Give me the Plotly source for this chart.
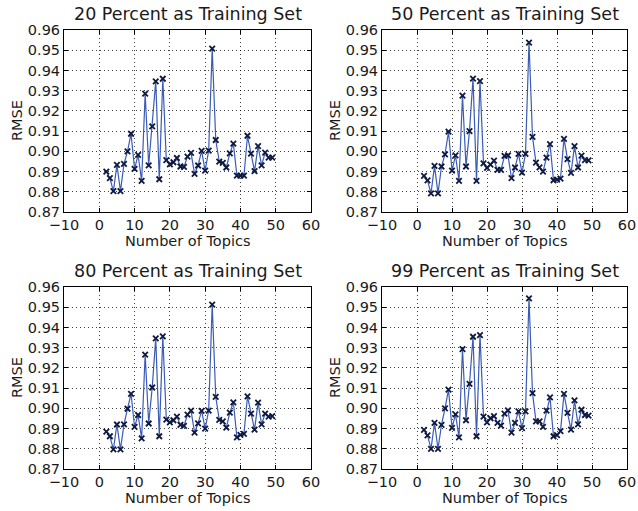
import plotly.graph_objects as go

topics = list(range(2, 50))

rmse_20 = [0.8900, 0.8867, 0.8803, 0.8933, 0.8803, 0.8938, 0.9000, 0.9087, 0.8913, 0.8982,
           0.8854, 0.9285, 0.8931, 0.9123, 0.9346, 0.8862, 0.9359, 0.8957, 0.8936, 0.8946,
           0.8967, 0.8925, 0.8923, 0.8974, 0.8992, 0.8889, 0.8930, 0.9002, 0.8905, 0.9003,
           0.9508, 0.9056, 0.8949, 0.8943, 0.8920, 0.8990, 0.9038, 0.8880, 0.8880, 0.8880,
           0.9077, 0.8989, 0.8902, 0.9026, 0.8931, 0.8994, 0.8969, 0.8969]

rmse_50 = [0.8879, 0.8856, 0.8792, 0.8928, 0.8792, 0.8925, 0.8985, 0.9097, 0.8905, 0.8980,
           0.8854, 0.9275, 0.8925, 0.9100, 0.9360, 0.8854, 0.9347, 0.8940, 0.8918, 0.8934,
           0.8954, 0.8908, 0.8908, 0.8977, 0.8980, 0.8867, 0.8920, 0.8987, 0.8895, 0.8987,
           0.9538, 0.9072, 0.8944, 0.8921, 0.8900, 0.8969, 0.9036, 0.8857, 0.8860, 0.8865,
           0.9062, 0.8961, 0.8893, 0.9026, 0.8920, 0.8979, 0.8957, 0.8955]

rmse_80 = [0.8885, 0.8862, 0.8797, 0.8920, 0.8797, 0.8921, 0.8998, 0.9072, 0.8908, 0.8967,
           0.8851, 0.9266, 0.8925, 0.9103, 0.9346, 0.8862, 0.9356, 0.8944, 0.8931, 0.8941,
           0.8959, 0.8918, 0.8913, 0.8969, 0.8989, 0.8880, 0.8926, 0.8987, 0.8900, 0.8989,
           0.9513, 0.9057, 0.8943, 0.8936, 0.8905, 0.8979, 0.9030, 0.8856, 0.8869, 0.8874,
           0.9059, 0.8974, 0.8895, 0.9028, 0.8921, 0.8974, 0.8959, 0.8962]

rmse_99 = [0.8893, 0.8866, 0.8800, 0.8928, 0.8800, 0.8918, 0.9000, 0.9092, 0.8903, 0.8970,
           0.8856, 0.9293, 0.8941, 0.9121, 0.9354, 0.8862, 0.9362, 0.8959, 0.8931, 0.8951,
           0.8962, 0.8928, 0.8915, 0.8974, 0.8990, 0.8880, 0.8928, 0.8985, 0.8902, 0.8985,
           0.9544, 0.9075, 0.8936, 0.8936, 0.8908, 0.8989, 0.9054, 0.8862, 0.8867, 0.8887,
           0.9072, 0.8977, 0.8895, 0.9039, 0.8921, 0.8993, 0.8967, 0.8964]

titles = ["20 Percent as Training Set", "50 Percent as Training Set",
          "80 Percent as Training Set", "99 Percent as Training Set"]
series = [rmse_20, rmse_50, rmse_80, rmse_99]

x_ticks = [-10, 0, 10, 20, 30, 40, 50, 60]
y_ticks = [0.87, 0.88, 0.89, 0.90, 0.91, 0.92, 0.93, 0.94, 0.95, 0.96]
y_tick_text = ["0.87", "0.88", "0.89", "0.90", "0.91", "0.92", "0.93", "0.94", "0.95", "0.96"]
x_label = "Number of Topics"
y_label = "RMSE"

W, H = 638, 511
FONT = "DejaVu Sans"
TXT = "#1a1a1a"

# plot-area boxes in pixels: (left, right, top, bottom)
boxes = [(64, 311, 30, 212), (382, 627, 30, 212),
         (64, 311, 287, 469), (382, 627, 287, 469)]

fig = go.Figure()
annotations = []
for i, (ys, title, box) in enumerate(zip(series, titles, boxes)):
    n = i + 1
    xa = "x" if n == 1 else f"x{n}"
    ya = "y" if n == 1 else f"y{n}"
    fig.add_trace(go.Scatter(
        x=topics, y=ys, xaxis=xa, yaxis=ya, mode="lines+markers",
        line=dict(color="#3a5cb8", width=1.2),
        marker=dict(symbol="x-thin-open", size=5.5, color="#0f1a40",
                    line=dict(color="#0f1a40", width=1.8)),
        showlegend=False, hoverinfo="x+y"))
    l, r, t, b = box
    xd = [l / W, r / W]
    yd = [(H - b) / H, (H - t) / H]
    axcommon = dict(showline=True, linecolor="black", linewidth=1, mirror="ticks",
                    ticks="inside", ticklen=4, tickcolor="black", tickwidth=1,
                    showgrid=True, gridcolor="rgba(0,0,0,0.75)", griddash="1px,3px",
                    gridwidth=1, zeroline=False, automargin=False,
                    tickfont=dict(family=FONT, size=14.5, color=TXT))
    fig.update_layout(**{
        ("xaxis" if n == 1 else f"xaxis{n}"): dict(
            domain=xd, anchor=ya, range=[-10, 60], tickvals=x_ticks, **axcommon),
        ("yaxis" if n == 1 else f"yaxis{n}"): dict(
            domain=yd, anchor=xa, range=[0.87, 0.96], tickvals=y_ticks,
            ticktext=y_tick_text, **axcommon),
    })
    cx = (l + r) / 2 / W
    annotations.append(dict(text=title, x=cx, y=(H - (t - 16)) / H, xref="paper", yref="paper",
                            xanchor="center", yanchor="middle", showarrow=False,
                            font=dict(family=FONT, size=17.5, color=TXT)))
    annotations.append(dict(text=x_label, x=cx, y=(H - (b + 29)) / H, xref="paper", yref="paper",
                            xanchor="center", yanchor="middle", showarrow=False,
                            font=dict(family=FONT, size=14.5, color=TXT)))
    annotations.append(dict(text=y_label, x=(l - 47) / W, y=(H - (t + b) / 2) / H,
                            xref="paper", yref="paper", textangle=-90,
                            xanchor="center", yanchor="middle", showarrow=False,
                            font=dict(family=FONT, size=14.5, color=TXT)))

fig.update_layout(width=W, height=H, margin=dict(l=0, r=0, t=0, b=0),
                  paper_bgcolor="white", plot_bgcolor="white",
                  annotations=annotations, font=dict(family=FONT, color=TXT))

fig.write_html("out.html", config={"displayModeBar": False},
               post_script="document.body.style.margin='0';document.body.style.padding='0';")
